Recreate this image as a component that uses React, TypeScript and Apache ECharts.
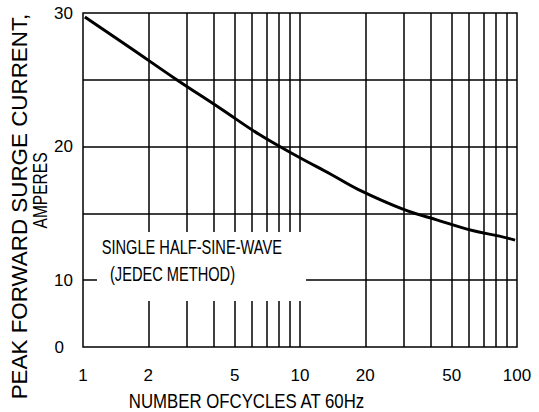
import React, { useEffect, useRef } from "react";
import * as echarts from "echarts";

// Curve (cycles at 60Hz -> peak forward surge current, A)
const cycles = [1.02, 1.65, 2.65, 4.3, 6.5, 9.9, 13.8, 18.5, 30, 43, 63, 83, 98];
const current = [29.7, 27.4, 25.1, 22.85, 20.9, 19.2, 17.95, 16.8, 15.3, 14.5, 13.7, 13.3, 13.0];

// Axis ticks
const xLabelValues = [1, 2, 5, 10, 20, 50, 100];
const xGridLower = [2, 3, 4, 5, 6, 7, 8, 9, 10];
const xGridUpper = [20, 30, 40, 50, 60, 70, 80, 90];
const yGridFull = [15, 20, 25];
const yGridBroken = [10];
const yMin = 5; // bottom of the plot, labelled "0" in the reference
const yMax = 30;
const xMin = 1;
const xMax = 100;

// Annotation box (in data units) that interrupts the grid
const noteX = [1.16, 10.66];
const noteY = [8.44, 13.6];

const noteLines = ["SINGLE HALF-SINE-WAVE", "(JEDEC METHOD)"];
const xName = "NUMBER OFCYCLES AT 60Hz";
const yName1 = "PEAK FORWARD SURGE CURRENT,";
const yName2 = "AMPERES";

const FONT = '"Liberation Sans", Arial, sans-serif';

export default function App() {
  const ref = useRef<HTMLDivElement>(null);
  useEffect(() => {
    if (!ref.current) return;
    const chart = echarts.init(ref.current, null, { renderer: "svg" });

    const seg = (a: number[], b: number[]) => [{ coord: a }, { coord: b }];
    const gridLines: any[] = [];
    xGridLower.forEach((x) => {
      gridLines.push(seg([x, yMin], [x, noteY[0]]));
      gridLines.push(seg([x, noteY[1]], [x, yMax]));
    });
    xGridUpper.forEach((x) => gridLines.push(seg([x, yMin], [x, yMax])));
    yGridFull.forEach((y) => gridLines.push(seg([xMin, y], [xMax, y])));
    yGridBroken.forEach((y) => {
      gridLines.push(seg([xMin, y], [noteX[0], y]));
      gridLines.push(seg([noteX[1], y], [xMax, y]));
    });

    chart.setOption({
      animation: false,
      backgroundColor: "#fff",
      grid: {
        left: 83,
        top: 13,
        right: 22,
        bottom: 65,
        show: true,
        borderColor: "#000",
        borderWidth: 1.5,
        backgroundColor: "transparent",
      },
      xAxis: {
        type: "log",
        logBase: 10,
        min: xMin,
        max: xMax,
        axisLine: { show: false },
        axisTick: { show: false },
        splitLine: { show: false },
        minorTick: { show: false },
        axisLabel: {
          customValues: xLabelValues,
          formatter: (v: number) => String(Math.round(v)),
          margin: 20,
          color: "#000",
          fontSize: 17,
          fontFamily: FONT,
          showMinLabel: true,
          showMaxLabel: true,
          hideOverlap: false,
        },
      },
      yAxis: {
        type: "value",
        min: yMin,
        max: yMax,
        interval: 5,
        axisLine: { show: false },
        axisTick: { show: false },
        splitLine: { show: false },
        axisLabel: {
          margin: 10,
          color: "#000",
          fontSize: 17,
          fontFamily: FONT,
          formatter: (v: number) => (v === yMin ? "{z|0}" : v % 10 === 0 ? String(v) : ""),
          rich: { z: { fontSize: 17, fontFamily: FONT, color: "#000", padding: [0, 9, 0, 0] } },
        },
      },
      series: [
        {
          type: "line",
          data: cycles.map((c, i) => [c, current[i]]),
          smooth: 0.4,
          symbol: "none",
          lineStyle: { color: "#000", width: 3 },
          z: 3,
          markLine: {
            silent: true,
            symbol: ["none", "none"],
            label: { show: false },
            lineStyle: { color: "#000", width: 1.5, type: "solid" },
            emphasis: { disabled: true },
            data: gridLines,
          },
        },
      ],
      graphic: [
        {
          type: "text",
          x: 101.7,
          y: 247,
          scaleX: 0.75,
          style: { text: noteLines[0], font: `19.5px ${FONT}`, fill: "#000", align: "left", verticalAlign: "middle" },
        },
        {
          type: "text",
          x: 110,
          y: 274,
          scaleX: 0.75,
          style: { text: noteLines[1], font: `19.5px ${FONT}`, fill: "#000", align: "left", verticalAlign: "middle" },
        },
        {
          type: "text",
          x: 246.5,
          y: 400.5,
          scaleX: 0.8,
          style: { text: xName, font: `21px ${FONT}`, fill: "#000", align: "center", verticalAlign: "middle" },
        },
        {
          type: "text",
          x: 19.5,
          y: 206.5,
          rotation: Math.PI / 2,
          style: { text: yName1, font: `22.4px ${FONT}`, fill: "#000", align: "center", verticalAlign: "middle" },
        },
        {
          type: "text",
          x: 39.5,
          y: 190.5,
          rotation: Math.PI / 2,
          scaleX: 0.74,
          style: { text: yName2, font: `21px ${FONT}`, fill: "#000", align: "center", verticalAlign: "middle" },
        },
      ],
    });
    return () => chart.dispose();
  }, []);
  return (
    <div
      ref={ref}
      style={{ position: "absolute", left: 0, top: 0, width: 539, height: 412, background: "#fff" }}
    />
  );
}
